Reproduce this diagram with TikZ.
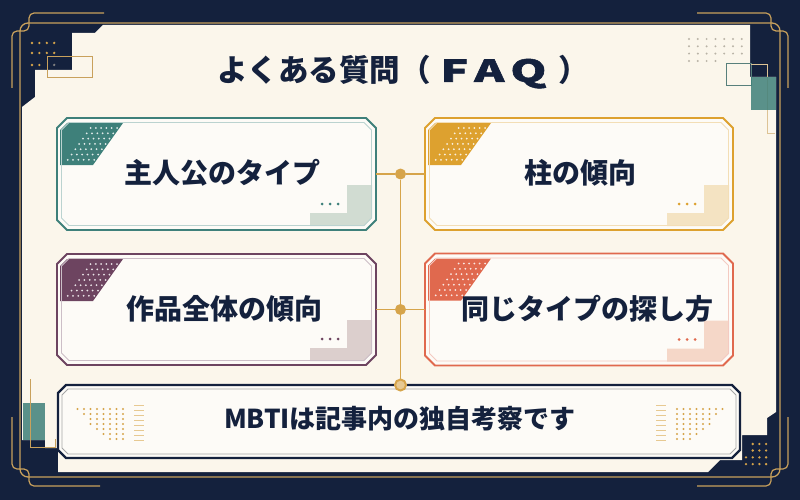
\documentclass[tikz,border=0pt]{standalone}
\usepackage{fontspec}
\setmainfont{Noto Sans CJK JP}
\newfontfamily\faqfont{Noto Sans CJK JP}[BoldFeatures={FakeBold=1.5}]
\usetikzlibrary{positioning,calc}

\definecolor{navy}{HTML}{14213D}
\definecolor{cream}{HTML}{FBF6EB}
\definecolor{frame}{HTML}{C9A15C}
\definecolor{gold}{HTML}{D6A44A}
\definecolor{qteal}{HTML}{3E807A}
\definecolor{qgold}{HTML}{DDA12F}
\definecolor{qplum}{HTML}{6D4460}
\definecolor{qcoral}{HTML}{E0694E}
\definecolor{dotgray}{HTML}{B9B3A6}

\begin{document}
\begin{tikzpicture}
[ x=1pt, y=-1pt,
  cardbox/.style={ rectangle, draw=none, inner sep=0pt, outer sep=0pt },
  cardline/.style={ draw=#1, line width=1.8pt, fill=cream!40!white, line join=miter },
  cardinner/.style={ draw=#1!35!white, line width=0.8pt },
  title/.style={ font=\fontsize{30.5}{36}\selectfont\bfseries, text=navy },
  qtext/.style={ font=\fontsize{28}{32}\selectfont\bfseries, text=navy },
  btext/.style={ font=\fontsize{26}{30}\selectfont\bfseries, text=navy },
  jdot/.style={ circle, fill=gold, inner sep=0pt, minimum size=11pt },
  jring/.style={ circle, draw=gold, line width=2pt, fill=gold!55!cream, inner sep=0pt, minimum size=11pt },
  link/.style={ draw=gold, line width=1.6pt },
  orn/.style={ draw=frame, line width=1.2pt, rounded corners=5pt }
]
\useasboundingbox (0,0) rectangle (800,500);
% background and panel
\fill[navy] (0,0) rectangle (800,500);
\fill[cream] (22,107) -- (35,97) -- (35,70) -- (72,70) -- (72,33) -- (95,33) -- (103,25)
  -- (750,25) -- (750,77) -- (776,77) -- (776,412) -- (767,418) -- (767,435) -- (742,435)
  -- (742,460) -- (720,460) -- (708,472) -- (58,472) -- (58,448) -- (45,448) -- (45,440)
  -- (22,440) -- cycle;
\draw[frame, line width=1.3pt, rounded corners=8pt] (20,23) rectangle (780,477);
\draw[orn] (104,13) -- (29,13) -- (29,31) -- (12,31) -- (12,88);
\draw[orn] (697,13) -- (771,13) -- (771,31) -- (788,31) -- (788,88);
\draw[orn] (12,417) -- (12,469) -- (29,469) -- (29,486) -- (100,486);
\draw[orn] (788,417) -- (788,469) -- (771,469) -- (771,486) -- (697,486);

% corner bits
\draw[frame, line width=1pt] (47,57) rectangle (92,78);
\foreach \i in {0,...,3}
  \foreach \j in {0,1}
    \fill[gold] (32+7.4*\i, 43+10*\j) circle (1.3);
\fill[gold] (32,65) circle (1.3) (39.4,65) circle (1.3);
\fill[gray] (54.2,65) circle (1.3);
\foreach \i in {0,...,6}
  \foreach \j in {0,1,2}
    \fill[dotgray] (689+8.8*\i, 39+7.3*\j) circle (1.1);
\foreach \i in {0,...,3}
  \fill[dotgray] (689+8.8*\i, 61) circle (1.1);
\draw[qteal!60!gray, line width=1pt] (726,64) rectangle (751,86);
\draw[frame!60!cream, line width=0.8pt] (751,64) -- (767,64) -- (767,133) -- (775,133);
\fill[qteal, opacity=0.85] (751,77) rectangle (776,110);
\fill[qteal, opacity=0.85] (23,403) rectangle (45,440);
\draw[frame, line width=1pt] (30,379) -- (30,447) -- (55,447) -- (55,439);
\foreach \i in {1,2,3}
  \foreach \j in {0,1}
    \fill[gold] (746+6.7*\i, 444+6.5*\j) circle (1.3);
\foreach \i in {0,...,3}
  \foreach \j in {2,3}
    \fill[gold] (746+6.7*\i, 444+6.7*\j) circle (1.3);

\node[title] (ttl) at (403,72)
  {よくある質問（\kern10pt\scalebox{1.5}[1]{\faqfont\bfseries F\kern4pt A\kern4pt Q}\kern12pt）};

% question cards
\foreach \n/\cx/\cy/\w/\h/\col/\dx/\txt in {
    c1/216.5/174/319/112/qteal/5.5/主人公のタイプ,
    c2/579/174/308/112/qgold/1/柱の傾向,
    c3/216.5/309.5/319/111/qplum/8/作品全体の傾向,
    c4/579/309.5/308/112/qcoral/8/同じタイプの探し方}{
  \node[cardbox, minimum width=\w pt, minimum height=\h pt] (\n) at (\cx,\cy) {};
  \begin{scope}[shift={(\n.north west)}]
    \draw[cardline=\col] (0,10) -- (10,0) -- (\w-10,0) -- (\w,10) -- (\w,\h-10)
      -- (\w-10,\h) -- (10,\h) -- (0,\h-10) -- cycle;
    \fill[\col] (3,12) -- (10,5) -- (66,5) -- (36,47) -- (3,47) -- cycle;
    \foreach \r in {0,...,6}
      \foreach \c in {0,...,5}
        \fill[white, opacity=0.85] ({60-3.8*\r-5.3*\c},{10+5.3*\r}) circle (1);
    \fill[\col!22!cream] (\w-66,\h-4) -- (\w-66,\h-17) -- (\w-29,\h-17) -- (\w-29,\h-45)
      -- (\w-4,\h-45) -- (\w-4,\h-12) -- (\w-12,\h-4) -- cycle;
    \foreach \k in {0,1,2}
      \fill[\col] (\w-54+8*\k,\h-26) circle (1.5);
    \draw[cardinner=\col] (4.5,12) -- (12,4.5) -- (\w-12,4.5) -- (\w-4.5,12) -- (\w-4.5,\h-12)
      -- (\w-12,\h-4.5) -- (12,\h-4.5) -- (4.5,\h-12) -- cycle;
  \end{scope}
  \node[qtext] (\n-t) at ($(\n.center)+(\dx,-1)$) {\txt};
}

% note card
\node[cardbox, minimum width=682pt, minimum height=73pt] (b) at (399,421.5) {};
\begin{scope}[shift={(b.north west)}]
  \draw[cardline=navy, line width=2.2pt] (0,8) -- (8,0) -- (674,0) -- (682,8) -- (682,65)
    -- (674,73) -- (8,73) -- (0,65) -- cycle;
  \draw[draw=gray!70, line width=0.9pt] (4,10) -- (10,4) -- (672,4) -- (678,10) -- (678,63)
    -- (672,69) -- (10,69) -- (4,63) -- cycle;
\end{scope}
\foreach \r in {0,...,6}
  \foreach \c in {0,...,7}{
    \pgfmathsetmacro\px{123-6.5*\c}
    \pgfmathtruncatemacro\ok{\px>=77+4.5*\r}
    \ifnum\ok=1
      \fill[gold] (\px,409+5*\r) circle (1.1);
      \fill[gold] (800-\px,409+5*\r) circle (1.1);
    \fi
  }
\foreach \s in {0,...,7}{
  \draw[gold!55!cream, line width=0.8pt] (134,405+5*\s) -- (144,405+5*\s);
  \draw[gold!55!cream, line width=0.8pt] (656,405+5*\s) -- (666,405+5*\s);
}
\node[btext] (bt) at (400,419) {MBTIは記事内の独自考察です};

% connectors
\node[jdot] (j1) at ($(c1.east)!0.5!(c2.west)$) {};
\node[jdot] (j2) at ($(c3.east)!0.5!(c4.west)$) {};
\node[jring] (j3) at (j1 |- b.north) {};
\draw[link] (c1.east) -- (j1) -- (c2.west);
\draw[link] (c3.east) -- (j2) -- (c4.west);
\draw[link] (j1) -- (j2) -- (j3);
\end{tikzpicture}
\end{document}
